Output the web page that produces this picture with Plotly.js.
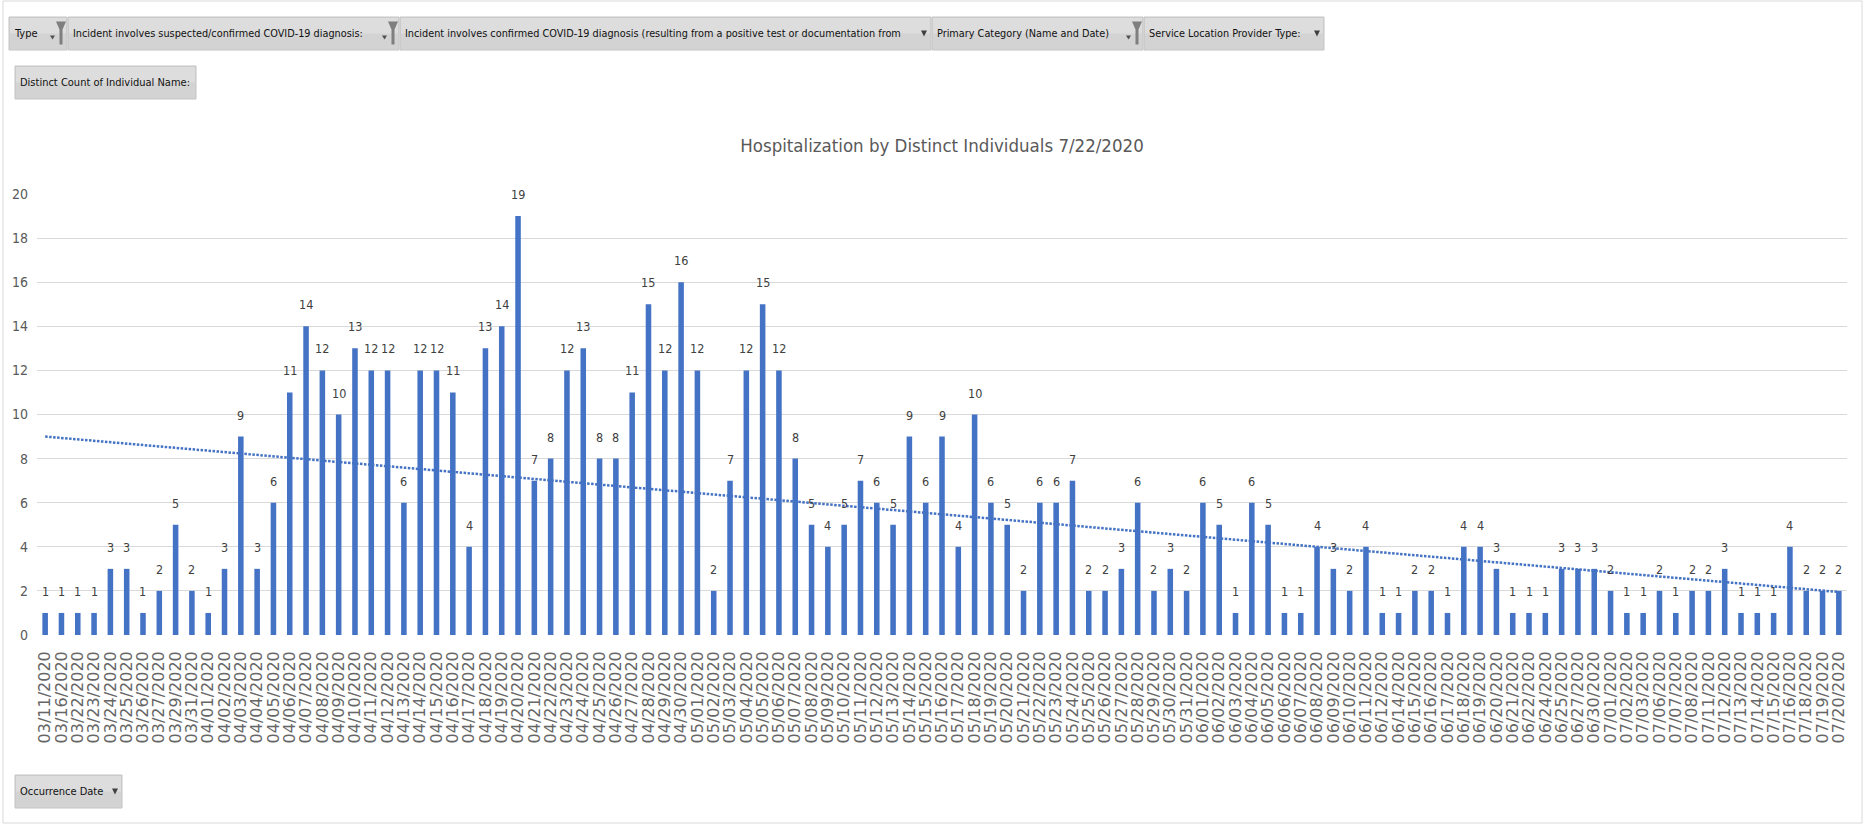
<!DOCTYPE html>
<html>
<head>
<meta charset="utf-8">
<script src="https://cdn.plot.ly/plotly-3.0.1.min.js"></script>
<style>
html,body{margin:0;padding:0;background:#ffffff;}
#chart{width:1864px;height:826px;}
</style>
</head>
<body>
<div id="chart"></div>
<script>
// ---------------- DATA ----------------
const occurrenceDates = [
"03/11/2020","03/16/2020","03/22/2020","03/23/2020","03/24/2020","03/25/2020","03/26/2020","03/27/2020","03/29/2020","03/31/2020",
"04/01/2020","04/02/2020","04/03/2020","04/04/2020","04/05/2020","04/06/2020","04/07/2020","04/08/2020","04/09/2020","04/10/2020",
"04/11/2020","04/12/2020","04/13/2020","04/14/2020","04/15/2020","04/16/2020","04/17/2020","04/18/2020","04/19/2020","04/20/2020",
"04/21/2020","04/22/2020","04/23/2020","04/24/2020","04/25/2020","04/26/2020","04/27/2020","04/28/2020","04/29/2020","04/30/2020",
"05/01/2020","05/02/2020","05/03/2020","05/04/2020","05/05/2020","05/06/2020","05/07/2020","05/08/2020","05/09/2020","05/10/2020",
"05/11/2020","05/12/2020","05/13/2020","05/14/2020","05/15/2020","05/16/2020","05/17/2020","05/18/2020","05/19/2020","05/20/2020",
"05/21/2020","05/22/2020","05/23/2020","05/24/2020","05/25/2020","05/26/2020","05/27/2020","05/28/2020","05/29/2020","05/30/2020",
"05/31/2020","06/01/2020","06/02/2020","06/03/2020","06/04/2020","06/05/2020","06/06/2020","06/07/2020","06/08/2020","06/09/2020",
"06/10/2020","06/11/2020","06/12/2020","06/14/2020","06/15/2020","06/16/2020","06/17/2020","06/18/2020","06/19/2020","06/20/2020",
"06/21/2020","06/22/2020","06/24/2020","06/25/2020","06/27/2020","06/30/2020","07/01/2020","07/02/2020","07/03/2020","07/06/2020",
"07/07/2020","07/08/2020","07/11/2020","07/12/2020","07/13/2020","07/14/2020","07/15/2020","07/16/2020","07/18/2020","07/19/2020",
"07/20/2020"
];

const distinctIndividuals = [
1,1,1,1,3,3,1,2,5,2,
1,3,9,3,6,11,14,12,10,13,
12,12,6,12,12,11,4,13,14,19,
7,8,12,13,8,8,11,15,12,16,
12,2,7,12,15,12,8,5,4,5,
7,6,5,9,6,9,4,10,6,5,
2,6,6,7,2,2,3,6,2,3,
2,6,5,1,6,5,1,1,4,3,
2,4,1,1,2,2,1,4,4,3,
1,1,1,3,3,3,2,1,1,2,
1,2,2,3,1,1,1,4,2,2,
2
];

// linear trendline end values (first and last date)
const trendEndValues = [9.0, 1.95];

const yTickValues = [0,2,4,6,8,10,12,14,16,18,20];

const chartTitle = "Hospitalization by Distinct Individuals 7/22/2020";

const filterFieldLabels = [
"Type",
"Incident involves suspected/confirmed COVID-19 diagnosis:",
"Incident involves confirmed COVID-19 diagnosis (resulting from a positive test or documentation from",
"Primary Category (Name and Date)",
"Service Location Provider Type:"
];
const valueFieldLabel = "Distinct Count of Individual Name:";
const axisFieldLabel = "Occurrence Date";

// ---------------- LAYOUT HELPERS ----------------
const W = 1864, H = 826;
const M = {l:37, r:17, t:194, b:191};
const PL = M.l, PR = W - M.r, PT = M.t, PB = H - M.b;
const px2x = p => (p - PL) / (PR - PL);
const py2y = p => (PB - p) / (PB - PT);

const narrow = "DejaVu Sans Condensed, Liberation Sans Narrow, Arial Narrow, sans-serif";

const shapes = [];
const annotations = [];

// outer frame
shapes.push({type:'rect', xref:'paper', yref:'paper',
  x0:px2x(3), x1:px2x(1862), y0:py2y(823), y1:py2y(1),
  line:{color:'#d9d9d9', width:1}, fillcolor:'rgba(0,0,0,0)', layer:'below'});

function button(x0, x1, y0, y1, label, icon, fsize) {
  shapes.push({type:'rect', xref:'paper', yref:'paper',
    x0:px2x(x0), x1:px2x(x1), y0:py2y(y1), y1:py2y(y0),
    fillcolor:'#d3d3d3', line:{color:'#c4c4c4', width:1}, layer:'above'});
  shapes.push({type:'rect', xref:'paper', yref:'paper',
    x0:px2x(x0+1), x1:px2x(x1-1), y0:py2y(y0 + (y1-y0)*0.5), y1:py2y(y0+1),
    fillcolor:'#dddddd', line:{width:0}, layer:'above'});
  annotations.push({xref:'paper', yref:'paper', x:px2x(x0+3), y:py2y((y0+y1)/2),
    xanchor:'left', yanchor:'middle', showarrow:false, text:label,
    font:{family:narrow, size:fsize || 11, color:'#111111'}});
  const cy = (y0+y1)/2;
  if (icon === 'filter') {
    const ax = x1 - 17;
    shapes.push({type:'path', xref:'paper', yref:'paper', layer:'above',
      path:`M ${px2x(ax)} ${py2y(cy+2)} L ${px2x(ax+5)} ${py2y(cy+2)} L ${px2x(ax+2.5)} ${py2y(cy+6)} Z`,
      fillcolor:'#505050', line:{width:0}});
    const fx = x1 - 11;
    shapes.push({type:'path', xref:'paper', yref:'paper', layer:'above',
      path:`M ${px2x(fx)} ${py2y(cy-12)} L ${px2x(fx+10)} ${py2y(cy-12)} L ${px2x(fx+6.5)} ${py2y(cy-4)} L ${px2x(fx+6.5)} ${py2y(cy+11)} L ${px2x(fx+3.5)} ${py2y(cy+11)} L ${px2x(fx+3.5)} ${py2y(cy-4)} Z`,
      fillcolor:'#7f7f7f', line:{width:0}});
  } else if (icon === 'drop') {
    const ax = x1 - 10;
    shapes.push({type:'path', xref:'paper', yref:'paper', layer:'above',
      path:`M ${px2x(ax)} ${py2y(cy-3)} L ${px2x(ax+6)} ${py2y(cy-3)} L ${px2x(ax+3)} ${py2y(cy+3)} Z`,
      fillcolor:'#404040', line:{width:0}});
  }
}

button(9, 67, 17, 50, filterFieldLabels[0], 'filter');
button(68, 399, 17, 50, filterFieldLabels[1], 'filter', 10.8);
button(400, 931, 17, 50, filterFieldLabels[2], 'drop', 10.8);
button(932, 1143, 17, 50, filterFieldLabels[3], 'filter', 10.8);
button(1144, 1324, 17, 50, filterFieldLabels[4], 'drop', 10.8);
button(15, 196, 66, 99, valueFieldLabel, null, 11);
button(15, 122, 775, 808, axisFieldLabel, 'drop', 11);

// data labels above bars
for (let i = 0; i < occurrenceDates.length; i++) {
  annotations.push({xref:'x', yref:'y', x:occurrenceDates[i], y:distinctIndividuals[i],
    xanchor:'center', yanchor:'bottom', yshift:12, showarrow:false,
    text:String(distinctIndividuals[i]),
    font:{family:narrow, size:12.5, color:'#404040'}});
}

// ---------------- TRACES ----------------
const bars = {
  type:'bar',
  x:occurrenceDates,
  y:distinctIndividuals,
  marker:{color:'#4472C4', line:{width:0}},
  hoverinfo:'x+y',
  showlegend:false
};

const trend = {
  type:'scatter',
  mode:'lines',
  x:[occurrenceDates[0], occurrenceDates[occurrenceDates.length-1]],
  y:trendEndValues,
  line:{color:'#4472C4', width:2.5, dash:'2.5px,1.5px'},
  hoverinfo:'skip',
  showlegend:false
};

const layout = {
  width:W, height:H,
  margin:M,
  paper_bgcolor:'#ffffff',
  plot_bgcolor:'#ffffff',
  bargap:0.66,
  showlegend:false,
  title:{text:chartTitle, x:0.5, xanchor:'center', xref:'paper',
    y:1 - 146/H, yref:'container', yanchor:'middle',
    font:{family:narrow, size:18.5, color:'#595959'}},
  xaxis:{
    type:'category',
    categoryorder:'array', categoryarray:occurrenceDates,
    tickmode:'array', tickvals:occurrenceDates, ticktext:occurrenceDates,
    tickangle:-90,
    showgrid:false, showline:false, zeroline:false, ticks:'',
    ticklabelstandoff:12,
    tickfont:{family:'DejaVu Sans, sans-serif', size:16, color:'#666666'},
    fixedrange:true
  },
  yaxis:{
    range:[0,20],
    tickmode:'array', tickvals:yTickValues,
    showgrid:true, gridcolor:'#d9d9d9', gridwidth:1,
    zeroline:false, showline:false, ticks:'',
    ticklabelstandoff:8,
    tickfont:{family:narrow, size:14, color:'#595959'},
    fixedrange:true
  },
  shapes:shapes,
  annotations:annotations
};

Plotly.newPlot('chart', [bars, trend], layout, {displayModeBar:false, staticPlot:false});
</script>
</body>
</html>
